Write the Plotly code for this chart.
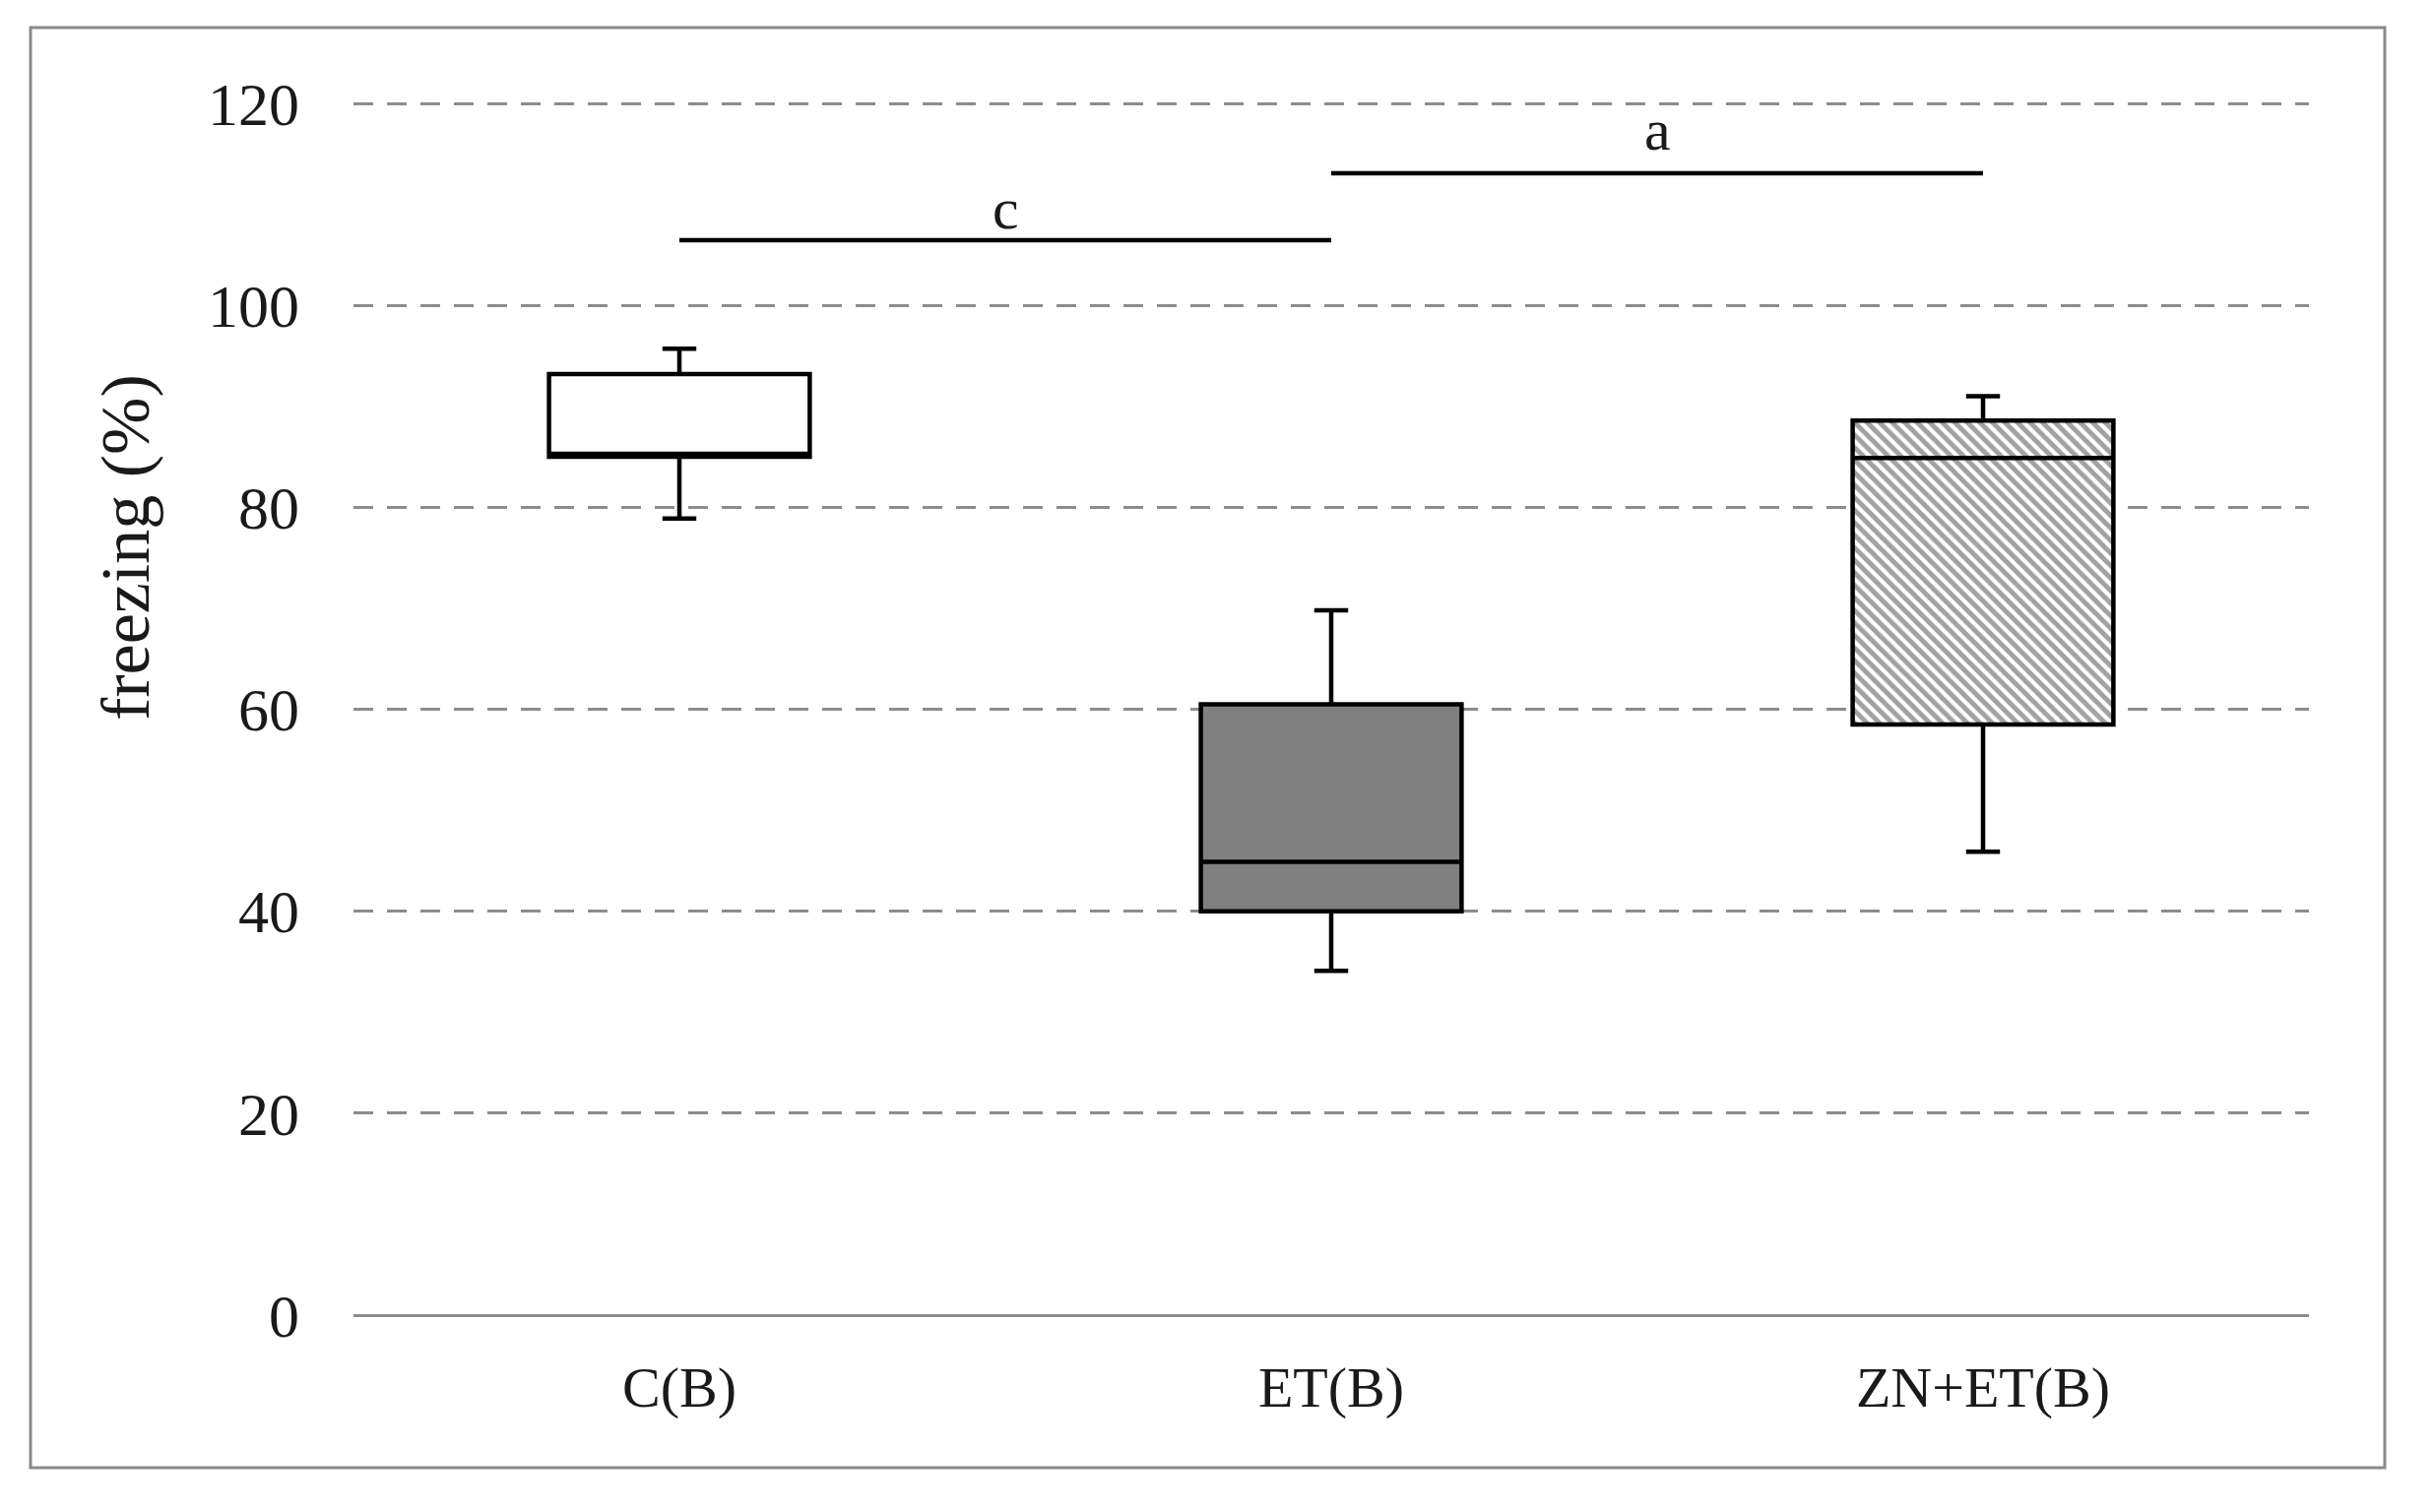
import plotly.graph_objects as go

categories = ["C(B)", "ET(B)", "ZN+ET(B)"]
lower_whisker = [78.9, 34.1, 45.9]
q1 = [85.0, 40.0, 58.5]
median = [85.3, 44.9, 84.9]
q3 = [93.2, 60.5, 88.6]
upper_whisker = [95.7, 69.8, 91.0]
fill_colors = ["white", "#808080", "white"]
fill_patterns = ["", "", "\\"]

# significance bars: (from, to, letter, bar height, letter height)
sig_pairs = [("C(B)", "ET(B)", "c", 106.45, 109.6),
             ("ET(B)", "ZN+ET(B)", "a", 113.1, 117.4)]

y_ticks = [0, 20, 40, 60, 80, 100, 120]

W, H = 2471, 1536
OFF = 8  # page body offset
PX_L, PX_R = 359, 2345
PX_Y0, PX_Y120 = 1336, 105
Y_TOP = 120.4
per_unit = (PX_Y0 - PX_Y120) / 120.0
L = PX_L - OFF
R = W - (PX_R - OFF)
B = H - (PX_Y0 - OFF)
T = int(round(PX_Y120 - OFF - (Y_TOP - 120) * per_unit))
plot_w = W - L - R
plot_h = H - T - B
FONT = "Liberation Serif"
TXT = "#1a1a1a"


def px_to_paper_x(px):
    return (px - OFF - L) / plot_w


def px_to_paper_y(py):
    return (H - B - (py - OFF)) / plot_h


fig = go.Figure()

fig.add_trace(go.Bar(
    x=categories,
    y=[b - a for a, b in zip(q1, q3)],
    base=q1,
    width=0.4,
    marker=dict(
        color=fill_colors,
        line=dict(width=0),
        pattern=dict(shape=fill_patterns, fillmode="overlay",
                     fgcolor="#222222", size=9, solidity=0.55),
    ),
    hoverinfo="skip",
    showlegend=False,
))

fig.add_trace(go.Box(
    x=categories,
    q1=q1, median=median, q3=q3,
    lowerfence=lower_whisker, upperfence=upper_whisker,
    width=0.4,
    whiskerwidth=0.13,
    fillcolor="rgba(0,0,0,0)",
    line=dict(color="black", width=4.5),
    boxpoints=False,
    showlegend=False,
))

for a, b, label, h, th in sig_pairs:
    fig.add_trace(go.Scatter(
        x=[a, b], y=[h, h], mode="lines",
        line=dict(color="black", width=4.5),
        hoverinfo="skip", showlegend=False,
    ))
    mid = (categories.index(a) + categories.index(b)) / 2
    fig.add_annotation(
        x=mid, y=th, xref="x", yref="y", text=label, showarrow=False,
        xanchor="center", yanchor="middle",
        font=dict(family=FONT, size=60, color=TXT),
    )

fig.add_annotation(
    x=px_to_paper_x(127), y=px_to_paper_y(556), xref="paper", yref="paper",
    text="freezing (%)", textangle=-90, showarrow=False,
    xanchor="center", yanchor="middle",
    font=dict(family=FONT, size=70, color=TXT),
)

fig.add_shape(
    type="rect", xref="paper", yref="paper",
    x0=px_to_paper_x(31), x1=px_to_paper_x(2422),
    y0=px_to_paper_y(1491), y1=px_to_paper_y(28),
    line=dict(color="#8a8a8a", width=3), fillcolor="rgba(0,0,0,0)",
    layer="below",
)

fig.update_layout(
    width=W, height=H,
    margin=dict(l=L, r=R, t=T, b=B),
    paper_bgcolor="white", plot_bgcolor="white",
    boxmode="overlay", barmode="overlay",
    font=dict(family=FONT, size=58, color=TXT),
)
fig.update_xaxes(
    type="category", categoryorder="array", categoryarray=categories,
    range=[-0.5, 2.5],
    showline=False, showgrid=False, zeroline=False,
    ticks="", ticklabelstandoff=34,
    tickfont=dict(family=FONT, size=58, color=TXT),
)
fig.update_yaxes(
    range=[0, Y_TOP], tickvals=y_ticks,
    showgrid=True, gridcolor="#8c8c8c", gridwidth=3, griddash="20px,14px",
    zeroline=True, zerolinecolor="#8c8c8c", zerolinewidth=3,
    showline=False, ticks="", ticklabelstandoff=54,
    tickfont=dict(family=FONT, size=62, color=TXT),
)

fig.write_html("out.html")
